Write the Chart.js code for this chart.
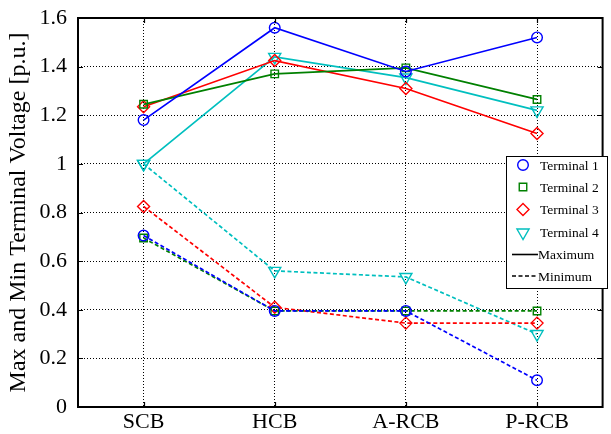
<!DOCTYPE html>
<html>
<head>
<meta charset="utf-8">
<script src="https://cdn.jsdelivr.net/npm/chart.js@4.4.0/dist/chart.umd.min.js"></script>
<style>
html,body{margin:0;padding:0;background:#fff;}
#wrap{width:611px;height:434px;position:relative;}
</style>
</head>
<body>
<div id="wrap"><canvas id="c" width="611" height="434"></canvas></div>
<script>
const categories = ['SCB', 'HCB', 'A-RCB', 'P-RCB'];
const yTickLabels = ['0', '0.2', '0.4', '0.6', '0.8', '1', '1.2', '1.4', '1.6'];
const terminalNames = ['Terminal 1', 'Terminal 2', 'Terminal 3', 'Terminal 4'];

const max1 = [1.18, 1.56, 1.38, 1.52];
const max2 = [1.245, 1.37, 1.395, 1.265];
const max3 = [1.235, 1.425, 1.31, 1.125];
const max4 = [1.0, 1.44, 1.355, 1.22];

const min1 = [0.705, 0.395, 0.395, 0.11];
const min2 = [0.695, 0.395, 0.395, 0.395];
const min3 = [0.825, 0.41, 0.345, 0.345];
const min4 = [1.0, 0.56, 0.535, 0.30];

const colors = ['#0000ff', '#008000', '#ff0000', '#00bfbf'];
const styles = [
  {pointStyle: 'circle', radius: 5.3, rotation: 0},
  {pointStyle: 'rect', radius: 5.3, rotation: 0},
  {pointStyle: 'rectRot', radius: 6, rotation: 0},
  {pointStyle: 'triangle', radius: 7, rotation: 180}
];
const maxSeries = [max1, max2, max3, max4];
const minSeries = [min1, min2, min3, min4];

function mk(data, i, dashed) {
  return {
    label: terminalNames[i] + (dashed ? ' min' : ' max'),
    data: data,
    borderColor: colors[i],
    backgroundColor: 'rgba(0,0,0,0)',
    borderWidth: 1.7,
    borderDash: dashed ? [4, 2.5] : [],
    pointStyle: styles[i].pointStyle,
    pointRadius: styles[i].radius,
    pointRotation: styles[i].rotation,
    pointBorderWidth: 1.4,
    pointBorderColor: colors[i],
    pointBackgroundColor: 'rgba(0,0,0,0)',
    tension: 0,
    fill: false
  };
}
const datasets = [];
for (let i = 0; i < 4; i++) datasets.push(mk(minSeries[i], i, true));
for (let i = 0; i < 4; i++) datasets.push(mk(maxSeries[i], i, false));

const FONT = 'Liberation Serif, "Times New Roman", serif';

const framePlugin = {
  id: 'frame',
  afterDatasetsDraw(chart) {
    const {ctx, chartArea: a, scales: {x, y}} = chart;
    ctx.save();
    ctx.strokeStyle = '#000';
    ctx.lineWidth = 1.2;
    ctx.setLineDash([]);
    ctx.beginPath();
    y.ticks.forEach(t => {
      const py = Math.round(y.getPixelForValue(t.value)) + 0.5;
      ctx.moveTo(a.left, py); ctx.lineTo(a.left + 5, py);
      ctx.moveTo(a.right, py); ctx.lineTo(a.right - 5, py);
    });
    categories.forEach((c, i) => {
      const px = Math.round(x.getPixelForValue(i)) + 0.5;
      ctx.moveTo(px, a.bottom); ctx.lineTo(px, a.bottom - 5);
      ctx.moveTo(px, a.top); ctx.lineTo(px, a.top + 5);
    });
    ctx.stroke();
    ctx.lineWidth = 2;
    ctx.strokeRect(a.left, a.top, a.right - a.left, a.bottom - a.top);

    // legend
    const bx = 506, by = 156, bw = 101, bh = 132;
    ctx.fillStyle = '#fff';
    ctx.fillRect(bx, by, bw, bh);
    ctx.lineWidth = 1;
    ctx.strokeStyle = '#000';
    ctx.strokeRect(bx + 0.5, by + 0.5, bw, bh);
    ctx.font = '13.5px ' + FONT;
    ctx.textBaseline = 'middle';
    ctx.textAlign = 'left';
    const rows = [165, 187, 209.5, 232.5, 254.5, 276];
    for (let i = 0; i < 4; i++) {
      ctx.strokeStyle = colors[i];
      ctx.fillStyle = 'rgba(0,0,0,0)';
      ctx.lineWidth = 1.4;
      Chart.helpers.drawPoint(ctx, {
        pointStyle: styles[i].pointStyle,
        radius: styles[i].radius,
        rotation: styles[i].rotation,
        borderWidth: 1.4
      }, 523, rows[i]);
      ctx.fillStyle = '#000';
      ctx.fillText(terminalNames[i], 540, rows[i] + 1);
    }
    ctx.strokeStyle = '#000';
    ctx.lineWidth = 1.6;
    ctx.setLineDash([]);
    ctx.beginPath(); ctx.moveTo(512, rows[4]); ctx.lineTo(538, rows[4]); ctx.stroke();
    ctx.setLineDash([4, 2.5]);
    ctx.beginPath(); ctx.moveTo(512, rows[5]); ctx.lineTo(538, rows[5]); ctx.stroke();
    ctx.setLineDash([]);
    ctx.fillStyle = '#000';
    ctx.fillText('Maximum', 538, rows[4] + 1);
    ctx.fillText('Minimum', 538, rows[5] + 1);
    ctx.restore();
  }
};

new Chart(document.getElementById('c'), {
  type: 'line',
  data: {labels: categories, datasets: datasets},
  options: {
    responsive: false,
    animation: false,
    devicePixelRatio: 1,
    layout: {padding: {top: 18, right: 2, left: 0, bottom: 0}},
    plugins: {legend: {display: false}, tooltip: {enabled: false}},
    scales: {
      x: {
        type: 'category',
        offset: true,
        afterFit: s => { s.height = 27; s.paddingLeft = 0; s.paddingRight = 0; },
        grid: {color: '#000', lineWidth: 1, drawTicks: false, offset: false},
        border: {display: false, dash: [1, 2]},
        ticks: {color: '#000', padding: 2, font: {family: FONT, size: 22}, maxRotation: 0, autoSkip: false}
      },
      y: {
        min: 0, max: 1.6,
        afterFit: s => { s.width = 78; s.paddingTop = 0; s.paddingBottom = 0; },
        grid: {color: '#000', lineWidth: 1, drawTicks: false},
        border: {display: false, dash: [1, 2]},
        ticks: {
          stepSize: 0.2, color: '#000', padding: 11,
          font: {family: FONT, size: 22},
          callback: (v, i) => yTickLabels[i]
        },
        title: {display: true, text: 'Max and Min Terminal Voltage [p.u.]', color: '#000',
          font: {family: FONT, size: 24}, padding: {top: 4, bottom: 0}}
      }
    }
  },
  plugins: [framePlugin]
});
</script>
</body>
</html>
